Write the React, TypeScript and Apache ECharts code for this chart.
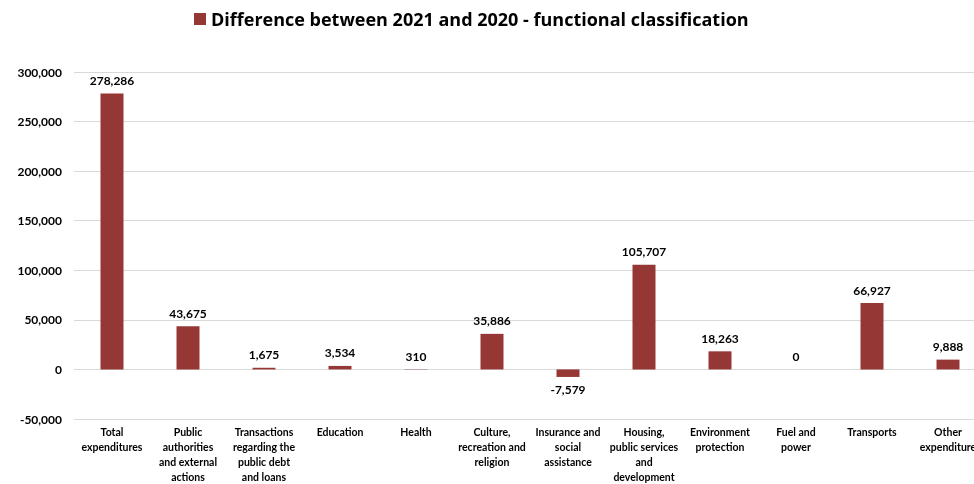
import React, { useEffect, useRef } from "react";
import * as echarts from "echarts";

const categories = [
  "Total\nexpenditures",
  "Public\nauthorities\nand external\nactions",
  "Transactions\nregarding the\npublic debt\nand loans",
  "Education",
  "Health",
  "Culture,\nrecreation and\nreligion",
  "Insurance and\nsocial\nassistance",
  "Housing,\npublic services\nand\ndevelopment",
  "Environment\nprotection",
  "Fuel and\npower",
  "Transports",
  "Other\nexpenditure",
];
const values = [278286, 43675, 1675, 3534, 310, 35886, -7579, 105707, 18263, 0, 66927, 9888];
const seriesName = "Difference between 2021 and 2020 - functional classification";

const FONT = "Lato, 'Open Sans', sans-serif";
const fmt = (v: number) => v.toLocaleString("en-US");

export default function App() {
  const ref = useRef<HTMLDivElement>(null);
  useEffect(() => {
    const chart = echarts.init(ref.current!, null, { renderer: "svg" });
    chart.setOption({
      animation: false,
      textStyle: { fontFamily: FONT },
      legend: {
        top: 10,
        left: 194,
        padding: 0,
        itemWidth: 12,
        itemHeight: 12,
        icon: "rect",
        textStyle: { fontFamily: "'Open Sans', sans-serif", fontWeight: "bold", fontSize: 18, color: "#000", padding: [0, 0, 0, 0] },
        data: [seriesName],
      },
      grid: { left: 74, right: 0, top: 72, bottom: 64.5, containLabel: false },
      xAxis: {
        type: "category",
        data: categories,
        position: "bottom",
        axisLine: { onZero: false, show: false },
        axisTick: { show: false },
        axisLabel: {
          interval: 0,
          fontFamily: FONT,
          fontWeight: "bold",
          fontSize: 10.5,
          lineHeight: 15,
          color: "#000",
          margin: 5,
        },
      },
      yAxis: {
        type: "value",
        min: -50000,
        max: 300000,
        interval: 50000,
        axisLine: { show: false },
        axisTick: { show: false },
        splitLine: { lineStyle: { color: "#d9d9d9", width: 1 } },
        axisLabel: {
          fontFamily: FONT,
          fontWeight: "bold",
          fontSize: 12,
          color: "#000",
          margin: 12,
          formatter: (v: number) => fmt(v),
        },
      },
      series: [
        {
          name: seriesName,
          type: "bar",
          barWidth: 23,
          itemStyle: { color: "#953735" },
          data: values.map((v) => ({
            value: v,
            label: { position: v < 0 ? "bottom" : "top" },
          })),
          label: {
            show: true,
            distance: 7,
            fontFamily: FONT,
            fontWeight: "bold",
            fontSize: 12,
            color: "#000",
            formatter: (p: any) => fmt(p.value),
          },
        },
      ],
    });
    return () => chart.dispose();
  }, []);
  return (
    <div style={{ width: 974, height: 484, position: "fixed", left: 0, top: 0, overflow: "hidden" }}>
      <div ref={ref} style={{ width: 986, height: 484 }} />
    </div>
  );
}
